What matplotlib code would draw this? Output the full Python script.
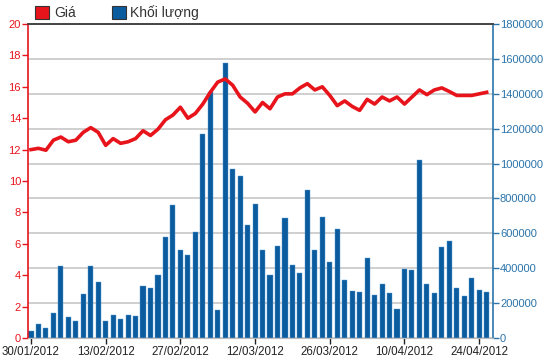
import matplotlib
matplotlib.use("Agg")
import matplotlib.pyplot as plt
from matplotlib.patches import Patch
import numpy as np

plt.rcParams['font.family'] = ['Liberation Sans', 'DejaVu Sans']

# ---- data ----
price = [12.0, 12.08, 11.96, 12.6, 12.8, 12.5, 12.6, 13.1, 13.4, 13.1,
         12.27, 12.7, 12.4, 12.5, 12.7, 13.2, 12.9, 13.3, 13.9, 14.2,
         14.7, 14.0, 14.3, 14.9, 15.65, 16.3, 16.5, 16.1, 15.35, 14.95,
         14.4, 15.0, 14.6, 15.35, 15.55, 15.55, 15.93, 16.2, 15.8, 16.0,
         15.45, 14.8, 15.1, 14.75, 14.5, 15.2, 14.9, 15.35, 15.1, 15.35,
         14.9, 15.35, 15.8, 15.5, 15.8, 15.93, 15.7, 15.45, 15.45, 15.45,
         15.55, 15.65]
volume = [40000, 80000, 55000, 142000, 415000, 118000, 96000, 255000, 415000, 320000,
          96000, 134000, 111000, 134000, 127000, 300000, 286000, 362000, 580000, 760000,
          507000, 478000, 608000, 1167000, 1408000, 161000, 1577000, 966000, 930000, 650000,
          771000, 507000, 362000, 529000, 686000, 420000, 375000, 851000, 507000, 694000,
          436000, 622000, 335000, 271000, 264000, 457000, 249000, 307000, 256000, 168000,
          398000, 392000, 1023000, 307000, 256000, 521000, 557000, 284000, 240000, 343000,
          278000, 264000]
tick_idx = [0, 10, 20, 30, 40, 50, 60]
tick_labels = ['30/01/2012', '13/02/2012', '27/02/2012', '12/03/2012',
               '26/03/2012', '10/04/2012', '24/04/2012']
price_ticks = [0, 2, 4, 6, 8, 10, 12, 14, 16, 18, 20]
volume_ticks = [0, 200000, 400000, 600000, 800000, 1000000, 1200000, 1400000, 1600000, 1800000]
legend_labels = ['Giá', 'Khối lượng']

RED = '#e8141c'
BAR = '#0b5c9e'
BLUE_TXT = '#2b74aa'

fig = plt.figure(figsize=(5.5, 3.64), dpi=100)
ax = fig.add_axes([28/550, 26/364, 465/550, 314/364])
ax2 = ax.twinx()

x = np.arange(len(price))

# volume bars on the secondary (right) axis, drawn underneath
ax2.bar(x, volume, width=0.68, color=BAR, edgecolor='#5b9bd0', linewidth=0.3, zorder=2)
ax2.set_ylim(0, 1800000)
ax2.set_yticks(volume_ticks)
ax2.set_yticklabels([str(v) for v in volume_ticks])
ax2.yaxis.grid(True, color='#cfcfcf', linewidth=1.4, zorder=0)
ax2.set_axisbelow(True)
ax2.tick_params(axis='y', colors=BLUE_TXT, labelsize=8, length=4, width=1, pad=1)

# price line on left axis, on top
ax.set_zorder(ax2.get_zorder() + 1)
ax.patch.set_visible(False)
ax.plot(x, price, color=RED, linewidth=2.6, solid_joinstyle='round', zorder=5)
ax.set_ylim(0, 20)
ax.set_yticks(price_ticks)
ax.tick_params(axis='y', colors=RED, labelsize=8, length=4, width=1, pad=1)
ax.set_xlim(-0.4, 61.85)
ax.set_xticks(tick_idx)
ax.set_xticklabels(tick_labels)
ax.tick_params(axis='x', colors='#222222', labelsize=8.3, length=4, width=1, pad=2)

for a in (ax, ax2):
    a.spines['top'].set_color('#444444')
    a.spines['top'].set_linewidth(1.2)
    a.spines['bottom'].set_color('#bbbbbb')
    a.spines['left'].set_color(RED)
    a.spines['right'].set_color(BLUE_TXT)
    a.spines['left'].set_linewidth(1.2)
    a.spines['right'].set_linewidth(1.2)
ax.spines['right'].set_visible(False)
ax2.spines['left'].set_visible(False)

handles = [Patch(facecolor=RED, edgecolor='#333333', linewidth=0.8),
           Patch(facecolor=BAR, edgecolor='#333333', linewidth=0.8)]
fig.legend(handles, legend_labels, loc='upper left', bbox_to_anchor=(0.041, 1.02),
           ncol=2, frameon=False, fontsize=10, handlelength=1.0, handleheight=1.0,
           handletextpad=0.35, columnspacing=2.6, labelcolor='#333333')

fig.savefig('out.png', dpi=100)
